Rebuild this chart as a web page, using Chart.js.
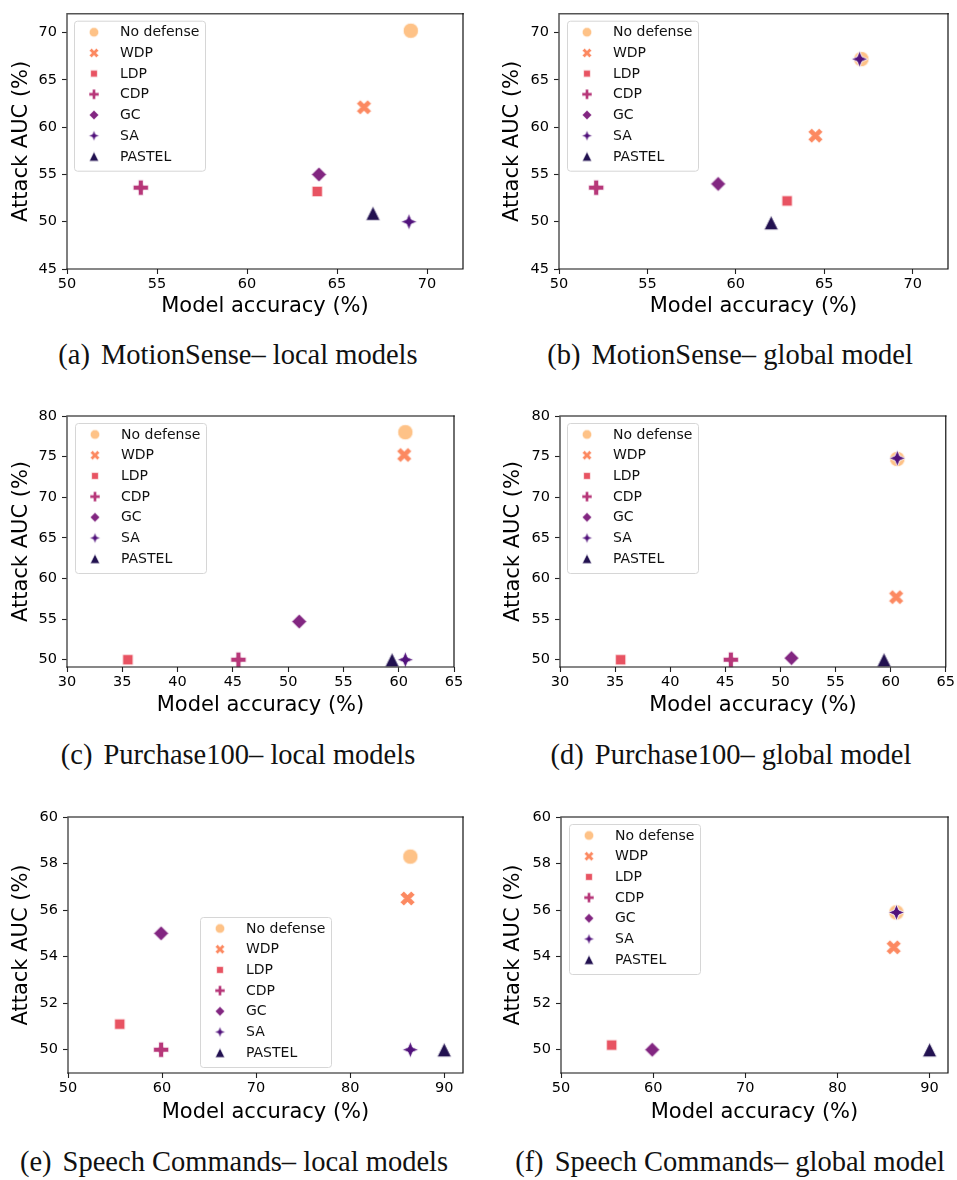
<!DOCTYPE html>
<html>
<head>
<meta charset="utf-8">
<script src="https://cdn.jsdelivr.net/npm/chart.js@4.4.1/dist/chart.umd.min.js"></script>
<style>
  html, body { margin: 0; padding: 0; background: #fff; }
  #page { position: relative; width: 957px; height: 1180px; overflow: hidden; background: #fff; }
  #page canvas { position: absolute; }
  .cap {
    position: absolute; width: 500px; text-align: center;
    font-family: "Liberation Serif", serif; font-size: 28.5px; line-height: 28.5px;
    color: #111; white-space: nowrap;
  }
  .cap span { margin-right: 11px; }
</style>
</head>
<body>
<div id="page">
  <canvas id="chartA" width="478" height="330" style="left:0;top:0"></canvas>
  <canvas id="chartB" width="479" height="330" style="left:478px;top:0"></canvas>
  <canvas id="chartC" width="478" height="330" style="left:0;top:400px"></canvas>
  <canvas id="chartD" width="479" height="330" style="left:478px;top:400px"></canvas>
  <canvas id="chartE" width="478" height="330" style="left:0;top:800px"></canvas>
  <canvas id="chartF" width="479" height="330" style="left:478px;top:800px"></canvas>

  <div class="cap" style="left:-12px;top:341px"><span>(a)</span>MotionSense– local models</div>
  <div class="cap" style="left:480px;top:341px"><span>(b)</span>MotionSense– global model</div>
  <div class="cap" style="left:-12px;top:741px"><span>(c)</span>Purchase100– local models</div>
  <div class="cap" style="left:481px;top:741px"><span>(d)</span>Purchase100– global model</div>
  <div class="cap" style="left:-16px;top:1148px"><span>(e)</span>Speech Commands– local models</div>
  <div class="cap" style="left:480px;top:1148px"><span>(f)</span>Speech Commands– global model</div>
</div>
<script>
// defenses, in legend order
const methods = ['No defense', 'WDP', 'LDP', 'CDP', 'GC', 'SA', 'PASTEL'];
const colors = ['#fec287', '#fc8961', '#e85362', '#b73779', '#822681', '#51127c', '#221150'];

// MotionSense
const motionLocalAcc = [69.1, 66.5, 63.9, 54.1, 64.0, 69.0, 67.0];
const motionLocalAuc = [70.2, 62.1, 53.2, 53.6, 55.0, 50.0, 50.9];
const motionGlobalAcc = [67.1, 64.5, 62.9, 52.1, 59.0, 67.0, 62.0];
const motionGlobalAuc = [67.2, 59.1, 52.2, 53.6, 54.0, 67.2, 49.9];

// Purchase100
const purchaseLocalAcc = [60.6, 60.5, 35.5, 45.5, 51.0, 60.6, 59.4];
const purchaseLocalAuc = [78.0, 75.2, 50.0, 50.0, 54.7, 50.0, 50.0];
const purchaseGlobalAcc = [60.6, 60.5, 35.5, 45.5, 51.0, 60.6, 59.4];
const purchaseGlobalAuc = [74.7, 57.7, 50.0, 50.0, 50.2, 74.8, 50.0];

// Speech Commands (CDP not visible in the global plot)
const speechLocalAcc = [86.4, 86.1, 55.5, 59.9, 59.9, 86.4, 90.0];
const speechLocalAuc = [58.3, 56.5, 51.1, 50.0, 55.0, 50.0, 50.0];
const speechGlobalAcc = [86.4, 86.1, 55.5, null, 59.9, 86.4, 90.0];
const speechGlobalAuc = [55.9, 54.4, 50.2, null, 50.0, 55.9, 50.0];

// axis ticks / ranges
const motionXTicks = [50, 55, 60, 65, 70];
const motionYTicks = [45, 50, 55, 60, 65, 70];
const motionXRange = [50, 72];
const motionYRange = [45, 72];
const purchaseXTicks = [30, 35, 40, 45, 50, 55, 60, 65];
const purchaseYTicks = [50, 55, 60, 65, 70, 75, 80];
const purchaseXRange = [30, 65];
const purchaseYRange = [49.1, 80];
const speechXTicks = [50, 60, 70, 80, 90];
const speechYTicks = [50, 52, 54, 56, 58, 60];
const speechXRange = [50, 92];
const speechYRange = [49, 60];

const FONT = '"DejaVu Sans", sans-serif';

// seaborn-like marker shapes, drawn into small canvases
const shapes = ['circle', 'x', 'square', 'plus', 'diamond', 'star', 'triangle'];

function polyPoints(shape) {
  if (shape === 'x') {
    return [[-1, -2], [0, -1], [1, -2], [2, -1], [1, 0], [2, 1], [1, 2], [0, 1], [-1, 2], [-2, 1], [-1, 0], [-2, -1]]
      .map(p => [p[0] / 4, p[1] / 4]);
  }
  if (shape === 'plus') {
    return [[-1, -3], [1, -3], [1, -1], [3, -1], [3, 1], [1, 1], [1, 3], [-1, 3], [-1, 1], [-3, 1], [-3, -1], [-1, -1]]
      .map(p => [p[0] / 6, p[1] / 6]);
  }
  if (shape === 'square') {
    const h = 0.5 / Math.SQRT2;
    return [[-h, -h], [h, -h], [h, h], [-h, h]];
  }
  if (shape === 'diamond') return [[0, -0.5], [0.5, 0], [0, 0.5], [-0.5, 0]];
  if (shape === 'triangle') return [[0, -0.5], [0.5, 0.5], [-0.5, 0.5]];
  if (shape === 'star') {
    const pts = [];
    for (let i = 0; i < 8; i++) {
      const r = i % 2 === 0 ? 0.5 : 0.5 * 0.42;
      const a = -Math.PI / 2 + i * Math.PI / 4;
      pts.push([r * Math.cos(a), r * Math.sin(a)]);
    }
    return pts;
  }
  return null;
}

function makeMarker(shape, size, color, edge) {
  const c = document.createElement('canvas');
  c.width = c.height = Math.ceil(size) + 4;
  const g = c.getContext('2d');
  const m = c.width / 2;
  g.beginPath();
  if (shape === 'circle') {
    g.arc(m, m, size / 2, 0, Math.PI * 2);
  } else {
    polyPoints(shape).forEach((p, i) => {
      const px = m + p[0] * size, py = m + p[1] * size;
      if (i === 0) g.moveTo(px, py); else g.lineTo(px, py);
    });
    g.closePath();
  }
  g.fillStyle = color;
  g.fill();
  g.strokeStyle = '#fff';
  g.lineWidth = edge;
  g.stroke();
  return c;
}

const plotSizes = [15.5, 15, 15, 15.5, 15, 16.5, 14.5];
const legendSizes = [9.5, 9.5, 9.5, 10, 9.5, 10.5, 9.5];
const plotMarkers = shapes.map((s, i) => makeMarker(s, plotSizes[i], colors[i], 0.9));
const legendMarkers = shapes.map((s, i) => makeMarker(s, legendSizes[i], colors[i], 0.6));

// frame around the plot area (drawn over the markers, like matplotlib spines)
const framePlugin = {
  id: 'frame',
  afterDatasetsDraw(chart) {
    const { ctx, chartArea: a } = chart;
    ctx.save();
    ctx.lineCap = 'square';
    ctx.strokeStyle = '#555';
    ctx.lineWidth = 1.5;
    ctx.beginPath();
    ctx.moveTo(a.left, a.bottom); ctx.lineTo(a.left, a.top); ctx.lineTo(a.right, a.top);
    ctx.stroke();
    ctx.strokeStyle = '#111';
    ctx.lineWidth = 1.2;
    ctx.beginPath();
    ctx.moveTo(a.right, a.top); ctx.lineTo(a.right, a.bottom); ctx.lineTo(a.left, a.bottom);
    ctx.stroke();
    ctx.restore();
  }
};

// legend box placed inside the plot area
const boxLegendPlugin = {
  id: 'boxLegend',
  afterDraw(chart, args, opts) {
    const { ctx, chartArea: a } = chart;
    const x = a.left + opts.dx, y = a.top + opts.dy;
    const w = 131, h = 150, row = 20.7;
    ctx.save();
    ctx.beginPath();
    ctx.roundRect(x + 0.5, y + 0.5, w, h, 3);
    ctx.fillStyle = 'rgba(255,255,255,0.8)';
    ctx.fill();
    ctx.strokeStyle = '#d6d6d6';
    ctx.lineWidth = 1;
    ctx.stroke();
    ctx.font = '14px ' + FONT;
    ctx.fillStyle = '#111';
    ctx.textBaseline = 'middle';
    methods.forEach((name, i) => {
      const cy = y + 11.5 + i * row;
      const mk = legendMarkers[i];
      ctx.drawImage(mk, x + 20 - mk.width / 2, cy - mk.height / 2);
      ctx.fillText(name, x + 46, cy + 0.5);
    });
    ctx.restore();
  }
};

// panel layout: canvas origin, plot rectangle in page coords, title positions, legend offset
const panels = [
  { id: 'chartA', ox: 0, oy: 0, w: 478, plot: [67, 11, 463, 269], xTitleY: 307, yTitleX: 22, legend: [7, 7],
    acc: motionLocalAcc, auc: motionLocalAuc, xr: motionXRange, yr: motionYRange, xt: motionXTicks, yt: motionYTicks },
  { id: 'chartB', ox: 478, oy: 0, w: 479, plot: [559, 11, 956, 269], xTitleY: 307, yTitleX: 513, legend: [8, 7],
    acc: motionGlobalAcc, auc: motionGlobalAuc, xr: motionXRange, yr: motionYRange, xt: motionXTicks, yt: motionYTicks },
  { id: 'chartC', ox: 0, oy: 400, w: 478, plot: [67, 416, 454, 667], xTitleY: 706, yTitleX: 22, legend: [8, 7],
    acc: purchaseLocalAcc, auc: purchaseLocalAuc, xr: purchaseXRange, yr: purchaseYRange, xt: purchaseXTicks, yt: purchaseYTicks },
  { id: 'chartD', ox: 478, oy: 400, w: 479, plot: [560, 416, 947, 667], xTitleY: 706, yTitleX: 514, legend: [7, 7],
    acc: purchaseGlobalAcc, auc: purchaseGlobalAuc, xr: purchaseXRange, yr: purchaseYRange, xt: purchaseXTicks, yt: purchaseYTicks },
  { id: 'chartE', ox: 0, oy: 800, w: 478, plot: [68, 817, 463, 1073], xTitleY: 1113, yTitleX: 22, legend: [132, 100],
    acc: speechLocalAcc, auc: speechLocalAuc, xr: speechXRange, yr: speechYRange, xt: speechXTicks, yt: speechYTicks },
  { id: 'chartF', ox: 478, oy: 800, w: 479, plot: [561, 817, 956, 1073], xTitleY: 1113, yTitleX: 514, legend: [8, 7],
    acc: speechGlobalAcc, auc: speechGlobalAuc, xr: speechXRange, yr: speechYRange, xt: speechXTicks, yt: speechYTicks }
];

const H = 330;
const titleSize = 21, titleLH = titleSize * 1.2;

panels.forEach(p => {
  const [L, T, R, B] = p.plot;
  const yAxisW = L - p.ox;
  const xAxisH = H - (B - p.oy);

  const datasets = methods.map((name, i) => ({
    label: name,
    data: [{ x: p.acc[i], y: p.auc[i] }],
    pointStyle: plotMarkers[i],
    pointRadius: 8,
    backgroundColor: colors[i],
    borderColor: colors[i],
    order: methods.length - i,
    clip: 10
  }));

  const tickOpts = { color: '#000', font: { family: FONT, size: 14.5 } };

  new Chart(document.getElementById(p.id), {
    type: 'scatter',
    data: { datasets },
    options: {
      responsive: false,
      animation: false,
      events: [],
      layout: { padding: { left: 0, top: T - p.oy, right: p.ox + p.w - R, bottom: 0 } },
      plugins: {
        legend: { display: false },
        tooltip: { enabled: false },
        boxLegend: { dx: p.legend[0], dy: p.legend[1] }
      },
      scales: {
        x: {
          type: 'linear',
          min: p.xr[0], max: p.xr[1],
          afterBuildTicks: s => { s.ticks = p.xt.map(v => ({ value: v })); },
          afterFit: s => { s.height = xAxisH; },
          grid: { display: true, drawOnChartArea: false, drawTicks: true, tickLength: 5, tickColor: '#222', tickWidth: 1.1 },
          border: { display: false },
          ticks: { ...tickOpts, padding: 2, maxRotation: 0 },
          title: {
            display: true, text: 'Model accuracy (%)', color: '#000',
            font: { family: FONT, size: titleSize },
            padding: { top: 0, bottom: H - (p.xTitleY - p.oy) - titleLH / 2 }
          }
        },
        y: {
          type: 'linear',
          min: p.yr[0], max: p.yr[1],
          afterBuildTicks: s => { s.ticks = p.yt.map(v => ({ value: v })); },
          afterFit: s => { s.width = yAxisW; },
          grid: { display: true, drawOnChartArea: false, drawTicks: true, tickLength: 5, tickColor: '#222', tickWidth: 1.1 },
          border: { display: false },
          ticks: { ...tickOpts, padding: 5 },
          title: {
            display: true, text: 'Attack AUC (%)', color: '#000',
            font: { family: FONT, size: titleSize },
            padding: { top: p.yTitleX - p.ox - titleLH / 2, bottom: 0 }
          }
        }
      }
    },
    plugins: [framePlugin, boxLegendPlugin]
  });
});
</script>
</body>
</html>
